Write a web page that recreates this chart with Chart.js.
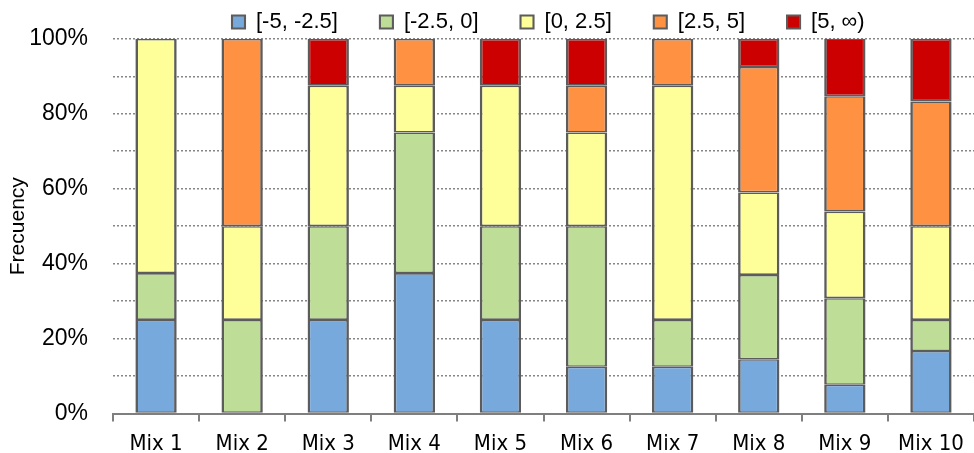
<!DOCTYPE html>
<html><head><meta charset="utf-8">
<script src="https://cdn.jsdelivr.net/npm/chart.js@4.4.1/dist/chart.umd.min.js"></script>
<style>html,body{margin:0;padding:0;background:#fff;overflow:hidden}#wrap{width:974px;height:453px}</style>
</head><body><div id="wrap"><canvas id="c"></canvas></div>
<script>
const categories = ["Mix 1","Mix 2","Mix 3","Mix 4","Mix 5","Mix 6","Mix 7","Mix 8","Mix 9","Mix 10"];
const seriesNames = ["[-5, -2.5]","[-2.5, 0]","[0, 2.5]","[2.5, 5]","[5, \u221e)"];
const binA = [25, 0, 25, 37.5, 25, 12.5, 12.5, 14.5, 7.7, 16.7];
const binB = [12.5, 25, 25, 37.5, 25, 37.5, 12.5, 22.5, 23.1, 8.3];
const binC = [62.5, 25, 37.5, 12.5, 37.5, 25, 62.5, 22, 23.1, 25];
const binD = [0, 50, 0, 12.5, 0, 12.5, 12.5, 33.5, 30.8, 33.3];
const binE = [0, 0, 12.5, 0, 12.5, 12.5, 0, 7.5, 15.4, 16.7];
const colors = ["#78A9DC","#BEDD96","#FFFF99","#FF9142","#CC0000"];
const yTicks = [0,20,40,60,80,100];

const values = [binA, binB, binC, binD, binE];
const datasets = values.map((v,i)=>({
  label: seriesNames[i], data: v, backgroundColor: colors[i],
  borderColor: "#5c5c5c", borderWidth: {top:1.6, bottom:1.6, left:2.6, right:2.6}, borderSkipped: false,
  barPercentage: 0.96, categoryPercentage: 0.5
}));

const legendPlace = {
  id: 'legendPlace',
  afterLayout(chart) {
    const lg = chart.legend; if (!lg || !lg.lineWidths) return;
    const pad = lg.options.labels.padding, W = lg.width, H = lg.height;
    const lw = lg.lineWidths[0];
    const L = (2*232 - pad - W + lw) / 2;
    lg.left = L; lg.right = L + W;
    const fs = lg.options.labels.font.size;
    lg.top = 22 - fs/2 - pad; lg.bottom = lg.top + H;
  }
};

new Chart(document.getElementById('c'), {
  type: 'bar',
  data: { labels: categories, datasets },
  plugins: [legendPlace],
  options: {
    responsive: true, maintainAspectRatio: false, animation: false,
    layout: { padding: { left: 6, right: -7, top: -36, bottom: -13 } },
    plugins: {
      legend: {
        position: 'top', align: 'center',
        labels: { boxWidth: 13, boxHeight: 13, padding: 42, color: '#000',
          font: { family: "'Liberation Sans', Arial, sans-serif", size: 22 } }
      },
      tooltip: { enabled: false }
    },
    scales: {
      x: {
        stacked: true,
        grid: { display: true, drawOnChartArea: false, offset: true, tickLength: 8, color: '#7f7f7f', lineWidth: 2 },
        border: { display: true, color: '#7f7f7f', width: 2 },
        ticks: { color: '#000', padding: 9, font: { family: "'Liberation Sans Narrow', 'DejaVu Sans Condensed', sans-serif", size: 22 } }
      },
      y: {
        stacked: true, min: 0, max: 100,
        afterBuildTicks: (ax) => { const t=[]; for (let v=0; v<=100; v+=10) t.push({value:v}); ax.ticks = t; },
        afterFit: (ax) => { ax.width = 107; },
        grid: { color: (ctx)=> ctx.tick && ctx.tick.value===0 ? 'rgba(0,0,0,0)' : '#868686', lineWidth: 1.5, drawTicks: false },
        border: { display: false, dash: [2,2] },
        ticks: { color: '#000', padding: 25,
          callback: (v) => yTicks.includes(v) ? v + '%' : '',
          font: { family: "'Liberation Sans', Arial, sans-serif", size: 23 } },
        title: { display: true, text: 'Frecuency', color: '#000', padding: { top: 0, bottom: 0 },
          font: { family: "'Liberation Sans', Arial, sans-serif", size: 21 } }
      }
    }
  }
});
</script></body></html>
